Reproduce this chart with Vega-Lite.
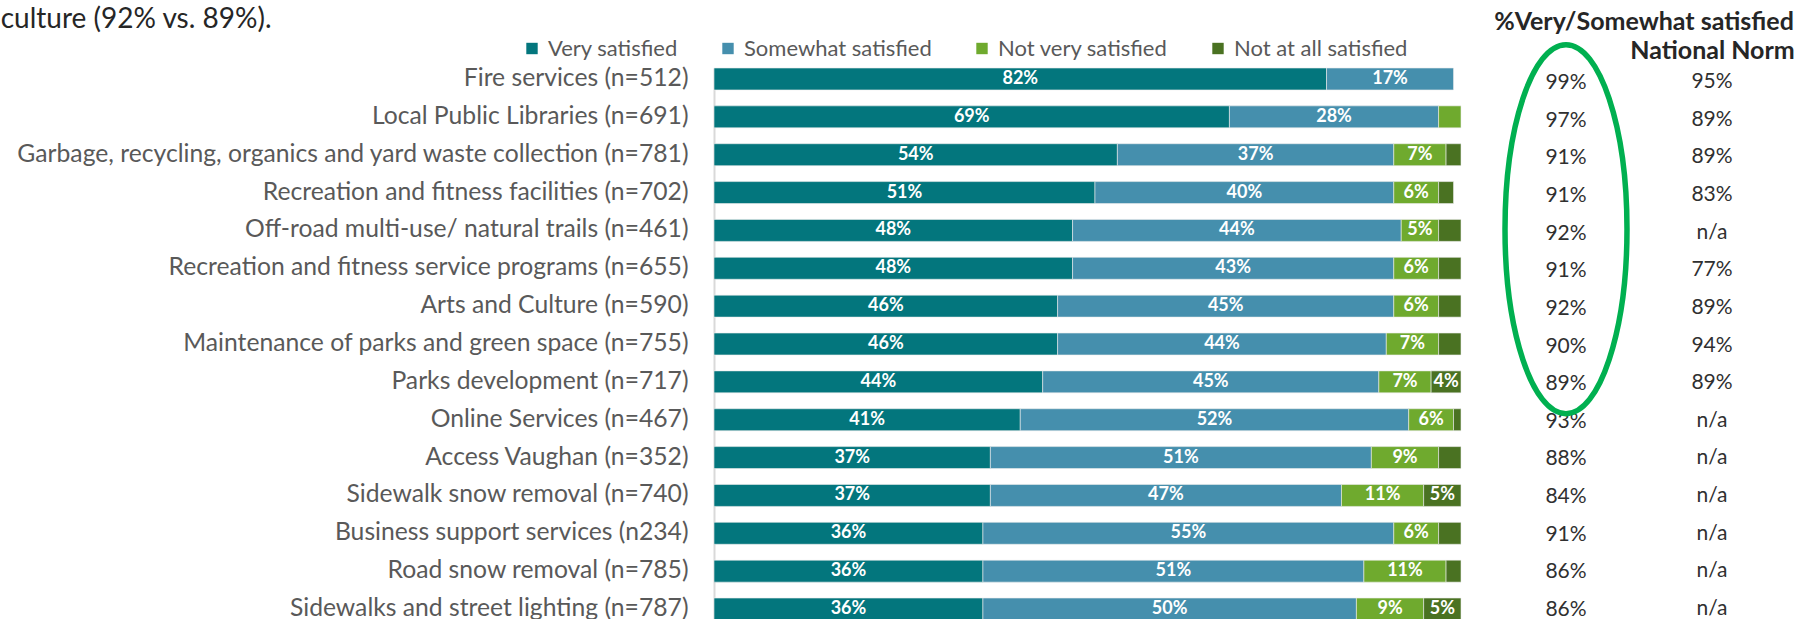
{
  "$schema": "https://vega.github.io/schema/vega-lite/v6.json",
  "autosize": {"type": "pad"},
  "padding": {"left": 0, "top": 6, "right": 0, "bottom": 0},
  "background": "white",
  "config": {"view": {"stroke": null}, "font": "Lato", "concat": {"spacing": 31}},
  "datasets": {
    "bars": [
      {"item": "Fire services (n=512)", "category": "Very satisfied", "value": 82},
      {"item": "Fire services (n=512)", "category": "Somewhat satisfied", "value": 17},
      {"item": "Local Public Libraries (n=691)", "category": "Very satisfied", "value": 69},
      {"item": "Local Public Libraries (n=691)", "category": "Somewhat satisfied", "value": 28},
      {"item": "Local Public Libraries (n=691)", "category": "Not very satisfied", "value": 3},
      {"item": "Garbage, recycling, organics and yard waste collection (n=781)", "category": "Very satisfied", "value": 54},
      {"item": "Garbage, recycling, organics and yard waste collection (n=781)", "category": "Somewhat satisfied", "value": 37},
      {"item": "Garbage, recycling, organics and yard waste collection (n=781)", "category": "Not very satisfied", "value": 7},
      {"item": "Garbage, recycling, organics and yard waste collection (n=781)", "category": "Not at all satisfied", "value": 2},
      {"item": "Recreation and fitness facilities (n=702)", "category": "Very satisfied", "value": 51},
      {"item": "Recreation and fitness facilities (n=702)", "category": "Somewhat satisfied", "value": 40},
      {"item": "Recreation and fitness facilities (n=702)", "category": "Not very satisfied", "value": 6},
      {"item": "Recreation and fitness facilities (n=702)", "category": "Not at all satisfied", "value": 2},
      {"item": "Off-road multi-use/ natural trails (n=461)", "category": "Very satisfied", "value": 48},
      {"item": "Off-road multi-use/ natural trails (n=461)", "category": "Somewhat satisfied", "value": 44},
      {"item": "Off-road multi-use/ natural trails (n=461)", "category": "Not very satisfied", "value": 5},
      {"item": "Off-road multi-use/ natural trails (n=461)", "category": "Not at all satisfied", "value": 3},
      {"item": "Recreation and fitness service programs (n=655)", "category": "Very satisfied", "value": 48},
      {"item": "Recreation and fitness service programs (n=655)", "category": "Somewhat satisfied", "value": 43},
      {"item": "Recreation and fitness service programs (n=655)", "category": "Not very satisfied", "value": 6},
      {"item": "Recreation and fitness service programs (n=655)", "category": "Not at all satisfied", "value": 3},
      {"item": "Arts and Culture (n=590)", "category": "Very satisfied", "value": 46},
      {"item": "Arts and Culture (n=590)", "category": "Somewhat satisfied", "value": 45},
      {"item": "Arts and Culture (n=590)", "category": "Not very satisfied", "value": 6},
      {"item": "Arts and Culture (n=590)", "category": "Not at all satisfied", "value": 3},
      {"item": "Maintenance of parks and green space (n=755)", "category": "Very satisfied", "value": 46},
      {"item": "Maintenance of parks and green space (n=755)", "category": "Somewhat satisfied", "value": 44},
      {"item": "Maintenance of parks and green space (n=755)", "category": "Not very satisfied", "value": 7},
      {"item": "Maintenance of parks and green space (n=755)", "category": "Not at all satisfied", "value": 3},
      {"item": "Parks development (n=717)", "category": "Very satisfied", "value": 44},
      {"item": "Parks development (n=717)", "category": "Somewhat satisfied", "value": 45},
      {"item": "Parks development (n=717)", "category": "Not very satisfied", "value": 7},
      {"item": "Parks development (n=717)", "category": "Not at all satisfied", "value": 4},
      {"item": "Online Services (n=467)", "category": "Very satisfied", "value": 41},
      {"item": "Online Services (n=467)", "category": "Somewhat satisfied", "value": 52},
      {"item": "Online Services (n=467)", "category": "Not very satisfied", "value": 6},
      {"item": "Online Services (n=467)", "category": "Not at all satisfied", "value": 1},
      {"item": "Access Vaughan (n=352)", "category": "Very satisfied", "value": 37},
      {"item": "Access Vaughan (n=352)", "category": "Somewhat satisfied", "value": 51},
      {"item": "Access Vaughan (n=352)", "category": "Not very satisfied", "value": 9},
      {"item": "Access Vaughan (n=352)", "category": "Not at all satisfied", "value": 3},
      {"item": "Sidewalk snow removal (n=740)", "category": "Very satisfied", "value": 37},
      {"item": "Sidewalk snow removal (n=740)", "category": "Somewhat satisfied", "value": 47},
      {"item": "Sidewalk snow removal (n=740)", "category": "Not very satisfied", "value": 11},
      {"item": "Sidewalk snow removal (n=740)", "category": "Not at all satisfied", "value": 5},
      {"item": "Business support services (n234)", "category": "Very satisfied", "value": 36},
      {"item": "Business support services (n234)", "category": "Somewhat satisfied", "value": 55},
      {"item": "Business support services (n234)", "category": "Not very satisfied", "value": 6},
      {"item": "Business support services (n234)", "category": "Not at all satisfied", "value": 3},
      {"item": "Road snow removal (n=785)", "category": "Very satisfied", "value": 36},
      {"item": "Road snow removal (n=785)", "category": "Somewhat satisfied", "value": 51},
      {"item": "Road snow removal (n=785)", "category": "Not very satisfied", "value": 11},
      {"item": "Road snow removal (n=785)", "category": "Not at all satisfied", "value": 2},
      {"item": "Sidewalks and street lighting (n=787)", "category": "Very satisfied", "value": 36},
      {"item": "Sidewalks and street lighting (n=787)", "category": "Somewhat satisfied", "value": 50},
      {"item": "Sidewalks and street lighting (n=787)", "category": "Not very satisfied", "value": 9},
      {"item": "Sidewalks and street lighting (n=787)", "category": "Not at all satisfied", "value": 5}
    ],
    "table": [
      {"item": "Fire services (n=512)", "sat": "99%", "norm": "95%"},
      {"item": "Local Public Libraries (n=691)", "sat": "97%", "norm": "89%"},
      {"item": "Garbage, recycling, organics and yard waste collection (n=781)", "sat": "91%", "norm": "89%"},
      {"item": "Recreation and fitness facilities (n=702)", "sat": "91%", "norm": "83%"},
      {"item": "Off-road multi-use/ natural trails (n=461)", "sat": "92%", "norm": "n/a"},
      {"item": "Recreation and fitness service programs (n=655)", "sat": "91%", "norm": "77%"},
      {"item": "Arts and Culture (n=590)", "sat": "92%", "norm": "89%"},
      {"item": "Maintenance of parks and green space (n=755)", "sat": "90%", "norm": "94%"},
      {"item": "Parks development (n=717)", "sat": "89%", "norm": "89%"},
      {"item": "Online Services (n=467)", "sat": "93%", "norm": "n/a"},
      {"item": "Access Vaughan (n=352)", "sat": "88%", "norm": "n/a"},
      {"item": "Sidewalk snow removal (n=740)", "sat": "84%", "norm": "n/a"},
      {"item": "Business support services (n234)", "sat": "91%", "norm": "n/a"},
      {"item": "Road snow removal (n=785)", "sat": "86%", "norm": "n/a"},
      {"item": "Sidewalks and street lighting (n=787)", "sat": "86%", "norm": "n/a"}
    ],
    "ring": [
      {"item": "Off-road multi-use/ natural trails (n=461)", "col": "%Very/Somewhat satisfied"}
    ]
  },
  "hconcat": [
    {
      "width": 747,
      "height": 552,
      "title": {"text": "culture (92% vs. 89%).", "anchor": "start", "frame": "bounds", "dx": -15, "offset": 31, "fontSize": 28, "fontWeight": "normal", "color": "#262626", "font": "Lato"},
      "data": {"name": "bars"},
      "transform": [
        {"calculate": "indexof(['Very satisfied','Somewhat satisfied','Not very satisfied','Not at all satisfied'], datum.category)", "as": "ord"},
        {"stack": "value", "groupby": ["item"], "sort": [{"field": "ord", "order": "ascending"}], "as": ["v0", "v1"]},
        {"calculate": "(datum.v0 + datum.v1) / 2", "as": "mid"},
        {"calculate": "datum.value + '%'", "as": "label"}
      ],
      "encoding": {
        "y": {
          "field": "item", "type": "nominal", "sort": null,
          "scale": {"paddingInner": 0.42, "paddingOuter": 0},
          "axis": {"title": null, "ticks": false, "domainColor": "#D9D9D9", "domainWidth": 2, "labelFontSize": 24.7, "labelColor": "#595959", "labelPadding": 26, "labelLimit": 0, "labelFont": "Lato"}
        }
      },
      "layer": [
        {
          "mark": {"type": "bar", "stroke": "#EDEDED", "strokeWidth": 0.6},
          "encoding": {
            "x": {"field": "v0", "type": "quantitative", "scale": {"domain": [0, 100], "nice": false, "zero": true}, "axis": null},
            "x2": {"field": "v1"},
            "color": {
              "field": "category", "type": "nominal",
              "scale": {"domain": ["Very satisfied", "Somewhat satisfied", "Not very satisfied", "Not at all satisfied"], "range": ["#03767D", "#458FAD", "#6FAA2E", "#4A7222"]},
              "legend": {"orient": "none", "legendX": -193, "legendY": -30.5, "direction": "horizontal", "title": null, "symbolType": "square", "symbolSize": 130, "symbolStrokeWidth": 0, "labelFontSize": 22, "labelColor": "#595959", "labelFont": "Lato", "columnPadding": 39, "labelOffset": 5, "padding": 0, "labelLimit": 0}
            }
          }
        },
        {
          "transform": [{"filter": "datum.value >= 4"}],
          "mark": {"type": "text", "color": "white", "fontWeight": "bold", "fontSize": 18, "font": "Lato", "baseline": "middle", "align": "center"},
          "encoding": {
            "x": {"field": "mid", "type": "quantitative"},
            "text": {"field": "label", "type": "nominal"}
          }
        }
      ]
    },
    {
      "width": 292,
      "height": 552,
      "title": {"text": "%Very/Somewhat satisfied", "anchor": "middle", "dx": 5, "offset": -1, "fontSize": 25, "fontWeight": "bold", "color": "#262626", "font": "Lato"},
      "data": {"name": "table"},
      "encoding": {
        "y": {"field": "item", "type": "nominal", "sort": null, "scale": {"type": "point", "padding": 0.3377}, "axis": null}
      },
      "layer": [
        {
          "mark": {"type": "text", "fontSize": 21, "font": "Lato", "color": "#303030", "dy": 2.5, "baseline": "middle"},
          "encoding": {
            "x": {"datum": "%Very/Somewhat satisfied", "type": "nominal",
              "scale": {"domain": ["%Very/Somewhat satisfied", "National Norm"], "paddingInner": 0, "paddingOuter": 0},
              "axis": {"orient": "top", "title": null, "domain": false, "ticks": false, "labelAngle": 0, "labelExpr": "datum.label == 'National Norm' ? datum.label : ''", "labelFontSize": 25, "labelFontWeight": "bold", "labelColor": "#262626", "labelFont": "Lato", "labelPadding": 5, "labelLimit": 0}},
            "text": {"field": "sat", "type": "nominal"}
          }
        },
        {
          "mark": {"type": "text", "fontSize": 21, "font": "Lato", "color": "#303030", "dy": 1.5, "baseline": "middle"},
          "encoding": {
            "x": {"datum": "National Norm", "type": "nominal"},
            "text": {"field": "norm", "type": "nominal"}
          }
        },
        {
          "data": {"name": "ring"},
          "mark": {"type": "point", "shape": "M0,-1.011C0.1826,-1.011 0.3306,-0.5633 0.3306,-0.011C0.3306,0.5413 0.1826,0.989 0,0.989C-0.1826,0.989 -0.3306,0.5413 -0.3306,-0.011C-0.3306,-0.5633 -0.1826,-1.011 0,-1.011Z", "size": 136161, "filled": false, "stroke": "#00B050", "strokeWidth": 5.5, "opacity": 1},
          "encoding": {
            "x": {"field": "col", "type": "nominal"},
            "y": {"field": "item", "type": "nominal"}
          }
        }
      ]
    }
  ]
}
